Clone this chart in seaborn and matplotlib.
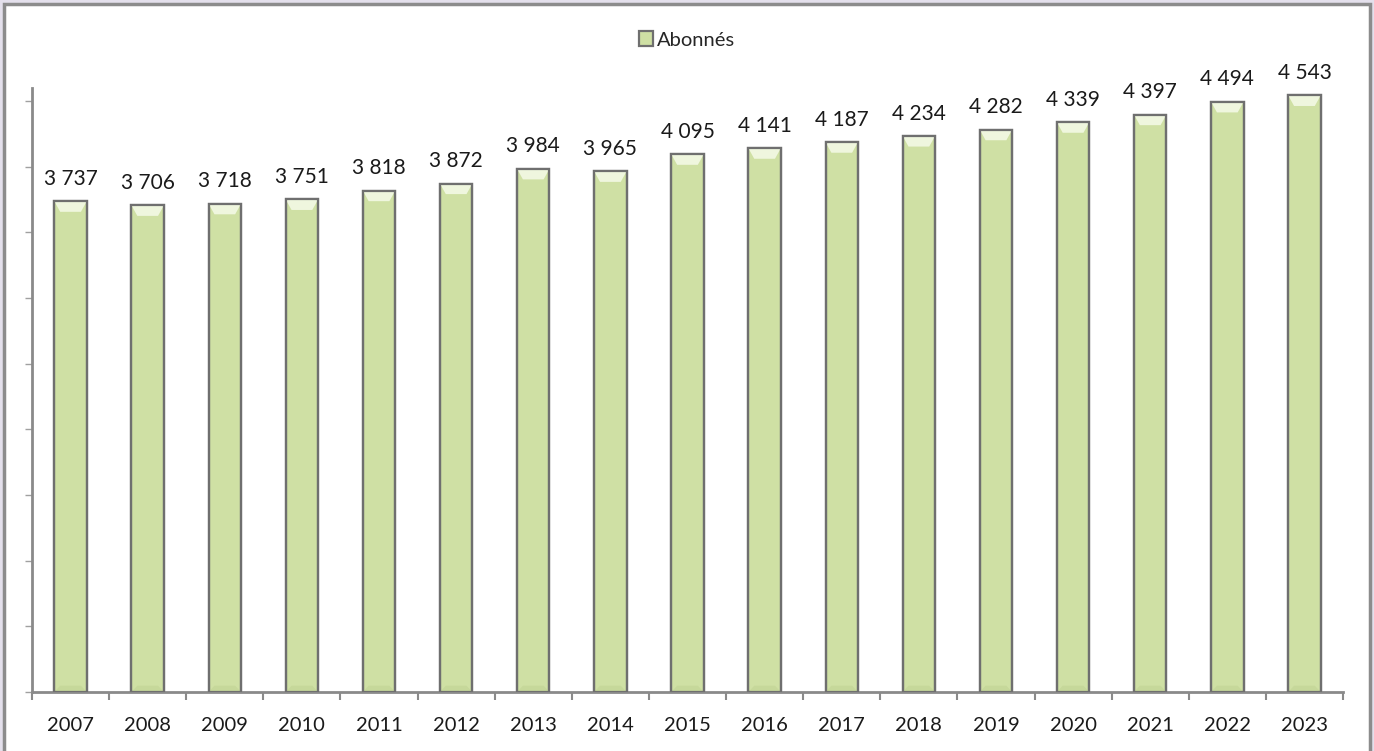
import pandas as pd
import numpy as np
import matplotlib.pyplot as plt
import seaborn as sns
from matplotlib.patches import Rectangle, Polygon

# data
years = ["2007", "2008", "2009", "2010", "2011", "2012", "2013", "2014", "2015",
         "2016", "2017", "2018", "2019", "2020", "2021", "2022", "2023"]
abonnes = [3737, 3706, 3718, 3751, 3818, 3872, 3984, 3965, 4095,
           4141, 4187, 4234, 4282, 4339, 4397, 4494, 4543]

df = pd.DataFrame({"Année": years, "Abonnés": abonnes})

sns.set_style("white")
plt.rcParams['font.family'] = ['Lato', 'DejaVu Sans']

fig = plt.figure(figsize=(13.74, 7.51), dpi=100)
fig.patch.set_facecolor('#e4e0ec')
# white chart area with grey frame (behind the axes)
fig.patches.append(Rectangle((4 / 1374, -0.05), 1366 / 1374, 1.05 - 4 / 751,
                             transform=fig.transFigure, facecolor='white',
                             edgecolor='#8c8c8c', linewidth=2.5, zorder=-10))

ax = fig.add_axes([32 / 1374, 1 - 692 / 751, 1311 / 1374, 604 / 751])
ax.set_facecolor('none')

sns.barplot(data=df, x="Année", y="Abonnés", ax=ax, width=0.42,
            color='#cfe0a4', edgecolor='#6f6f6f', linewidth=1.6, saturation=1,
            label="Abonnés")

ax.set_ylim(0, 4600)
ax.set_xlim(-0.5, len(years) - 0.5)

# bevel highlight at the top of each bar
for p in list(ax.patches):
    x0, w, h = p.get_x(), p.get_width(), p.get_height()
    d = 0.18 * w
    bev = 80
    ax.add_patch(Polygon([(x0, h), (x0 + w, h), (x0 + w - d, h - bev), (x0 + d, h - bev)],
                         closed=True, facecolor='#eff6de', edgecolor='none', zorder=3))
    ax.add_patch(Polygon([(x0, 0), (x0 + w, 0), (x0 + w - d, bev * 0.6), (x0 + d, bev * 0.6)],
                         closed=True, facecolor='#c6d89a', edgecolor='none', zorder=3))
    ax.add_patch(Rectangle((x0, 0), w, h, facecolor='none', edgecolor='#6f6f6f',
                           linewidth=1.6, zorder=4))

for i, v in enumerate(abonnes):
    ax.text(i, v + 95, f"{v:,}".replace(",", " "),
            ha='center', va='bottom', fontsize=15, color='#1a1a1a')

# axes styling
for s in ['top', 'right']:
    ax.spines[s].set_visible(False)
for s in ['left', 'bottom']:
    ax.spines[s].set_color('#8a8a8a')
    ax.spines[s].set_linewidth(2)

ax.set_yticks(np.arange(0, 4501, 500))
ax.set_yticklabels([])
ax.tick_params(axis='y', direction='out', length=5, width=1, color='#a0a0a0', left=True)

ax.set_xticks(np.arange(-0.5, len(years), 1))
ax.set_xticklabels([])
ax.set_xticks(np.arange(len(years)), minor=True)
ax.set_xticklabels(years, minor=True)
ax.tick_params(axis='x', which='major', direction='out', length=6, width=1.5,
               color='#8a8a8a', bottom=True)
ax.tick_params(axis='x', which='minor', length=0, pad=18, labelsize=14.5,
               labelcolor='#1a1a1a')
ax.set_xlabel("")
ax.set_ylabel("")

ax.legend(loc='center', bbox_to_anchor=(0.5, 1 - 40 / 751), bbox_transform=fig.transFigure,
          frameon=False, fontsize=14.5, handlelength=0.7, handleheight=0.7,
          handletextpad=0.2)

fig.savefig("out.png", dpi=100, facecolor=fig.get_facecolor())
